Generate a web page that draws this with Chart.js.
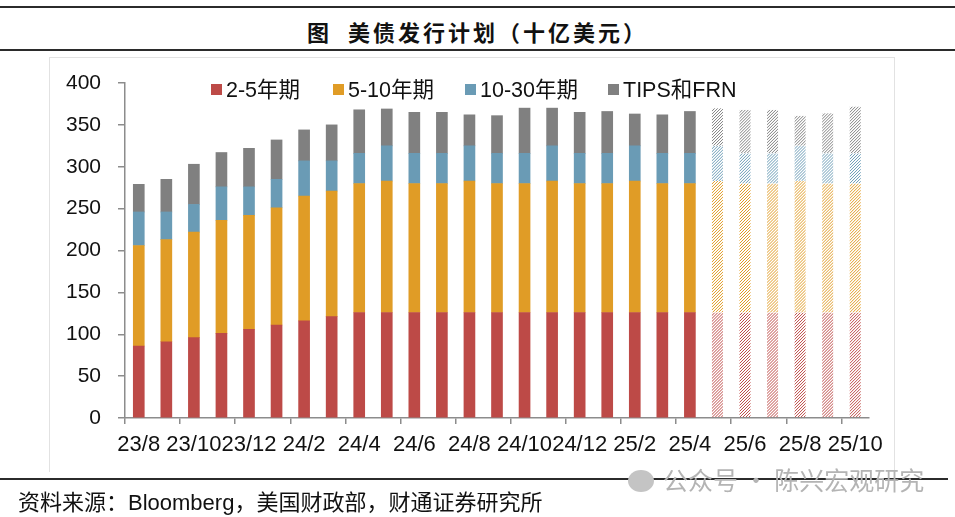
<!DOCTYPE html>
<html>
<head>
<meta charset="utf-8">
<script src="https://cdn.jsdelivr.net/npm/chart.js@4/dist/chart.umd.min.js"></script>
<style>
    body { margin: 0; background: #fff; }
    .page { position: relative; width: 955px; height: 517px; overflow: hidden; font-family: "Liberation Sans", Arial, "Noto Sans CJK SC", sans-serif; }
    .rule { position: absolute; left: 0; width: 955px; background: #2b2b2b; }
    .title { position: absolute; left: 0; width: 955px; top: 15px; text-align: center; font-family: "Noto Sans CJK SC", sans-serif; font-weight: 700; font-size: 22px; letter-spacing: 3px; color: #111; }
    .frame { position: absolute; left: 49px; top: 57px; width: 844px; height: 414px; border: 1px solid #e2e2e2; border-bottom: 0; }
    .legend { position: absolute; top: 77px; height: 26px; font-size: 21.5px; color: #111; line-height: 26px; white-space: nowrap; }
    .legend i { display: inline-block; width: 11px; height: 11px; margin-right: 4px; vertical-align: 2px; }
    .source { position: absolute; left: 18px; top: 484px; font-size: 22px; color: #111; font-family: "Liberation Sans", "Noto Sans CJK SC", sans-serif; }
    .mark { position: absolute; left: 628px; top: 461px; font-size: 25px; color: #b4b4b4; font-family: "Noto Sans CJK SC", sans-serif; white-space: nowrap; }
    .mark b { display: inline-block; width: 26px; height: 22px; border-radius: 50%; background: #c4c4c4; margin-right: 9px; vertical-align: -2px; }
    canvas { position: absolute; left: 0; top: 0; }
</style>
</head>
<body>
<div class="page">
    <div class="rule" style="top:6px;height:2px"></div>
    <div class="title">图&nbsp;&nbsp;美债发行计划（十亿美元）</div>
    <div class="rule" style="top:49px;height:1.5px"></div>
    <div class="frame"></div>
    <canvas id="issue-chart" width="955" height="517"></canvas>
    <div class="legend" style="left:211px"><i style="background:#bd4a47"></i>2-5年期</div>
    <div class="legend" style="left:333px"><i style="background:#e09c26"></i>5-10年期</div>
    <div class="legend" style="left:465px"><i style="background:#6a9bb5"></i>10-30年期</div>
    <div class="legend" style="left:608px"><i style="background:#808080"></i>TIPS和FRN</div>
    <div class="rule" style="top:478px;height:1.5px;width:948px"></div>
    <div class="mark"><b></b>公众号 · 陈兴宏观研究</div>
    <div class="source">资料来源：Bloomberg，美国财政部，财通证券研究所</div>
</div>
<script>
// 月份 23/8 ~ 25/10, 25/5 之后为预测(斜线)
const months = ['23/8','23/9','23/10','23/11','23/12','24/1','24/2','24/3','24/4','24/5','24/6','24/7','24/8','24/9',
    '24/10','24/11','24/12','25/1','25/2','25/3','25/4','25/5','25/6','25/7','25/8','25/9','25/10'];
const firstPlanned = 21;

const short2to5 = [86, 91, 96, 101, 106, 111, 116, 121, 126, 126, 126, 126, 126, 126,
    126, 126, 126, 126, 126, 126, 126, 126, 126, 126, 126, 126, 126];
const mid5to10 = [120, 122, 126, 135, 136, 140, 149, 150, 154, 157, 154, 154, 157, 154,
    154, 157, 154, 154, 157, 154, 154, 157, 154, 154, 157, 154, 154];
const long10to30 = [40, 33, 33, 40, 34, 34, 42, 36, 36, 42, 36, 36, 42, 36,
    36, 42, 36, 36, 42, 36, 36, 42, 36, 36, 42, 36, 36];
const tipsFrn = [33, 39, 48, 41, 46, 47, 37, 43, 52, 44, 49, 49, 37, 45,
    54, 45, 49, 50, 38, 46, 50, 45, 52, 52, 36, 48, 56];

const yTicks = [0, 50, 100, 150, 200, 250, 300, 350, 400];

function series(label, data, color) {
    return {
        label, data,
        hatchColor: color,
        backgroundColor: ctx => (ctx.dataIndex >= firstPlanned ? 'rgba(0,0,0,0)' : color),
        barThickness: 11,
        borderWidth: 0
    };
}

// 预测月份: 在库算出的柱体范围内画斜线
const hatchPlugin = {
    id: 'hatch',
    afterDatasetsDraw(chart) {
        const ctx = chart.ctx;
        chart.data.datasets.forEach((ds, di) => {
            const meta = chart.getDatasetMeta(di);
            meta.data.forEach((bar, i) => {
                if (i < firstPlanned) return;
                const { x, y, base, width } = bar.getProps(['x', 'y', 'base', 'width'], true);
                const left = x - width / 2, top = Math.min(y, base), h = Math.abs(base - y);
                ctx.save();
                ctx.beginPath();
                ctx.rect(left, top, width, h);
                ctx.clip();
                ctx.strokeStyle = ds.hatchColor;
                ctx.lineWidth = 1;
                ctx.beginPath();
                for (let d = -h; d < width + 3; d += 3) {
                    ctx.moveTo(left + d, top + h);
                    ctx.lineTo(left + d + h, top);
                }
                ctx.stroke();
                ctx.restore();
            });
        });
    }
};

Chart.defaults.font.family = '"Liberation Sans", Arial, sans-serif';
Chart.defaults.color = '#111';

new Chart(document.getElementById('issue-chart'), {
    type: 'bar',
    data: {
        labels: months,
        datasets: [
            series('2-5年期', short2to5, '#bd4a47'),
            series('5-10年期', mid5to10, '#e09c26'),
            series('10-30年期', long10to30, '#6a9bb5'),
            series('TIPS和FRN', tipsFrn, '#808080')
        ]
    },
    options: {
        responsive: false,
        animation: false,
        layout: { padding: { left: 60, right: 86, top: 83, bottom: 58 } },
        plugins: { legend: { display: false }, tooltip: { enabled: false } },
        scales: {
            x: {
                stacked: true,
                afterFit: s => { s.height = 41; },
                border: { color: '#8c8c8c', width: 1.5 },
                grid: {
                    drawOnChartArea: false, tickLength: 6, lineWidth: 1.5,
                    color: ctx => ((ctx.index ?? 1) % 2 === 0 ? '#8c8c8c' : 'rgba(0,0,0,0)')
                },
                ticks: {
                    autoSkip: false, maxRotation: 0, padding: 8,
                    font: { size: 22 },
                    callback: (v, i) => (i % 2 === 0 ? months[i] : '')
                }
            },
            y: {
                stacked: true,
                min: 0, max: 400,
                afterFit: s => { s.width = 65; },
                afterBuildTicks: s => { s.ticks = yTicks.map(v => ({ value: v })); },
                border: { color: '#8c8c8c', width: 1.5 },
                grid: { drawOnChartArea: false, tickLength: 7, color: '#8c8c8c', lineWidth: 1.5 },
                ticks: { padding: 17, font: { size: 21 } }
            }
        }
    },
    plugins: [hatchPlugin]
});
</script>
</body>
</html>
